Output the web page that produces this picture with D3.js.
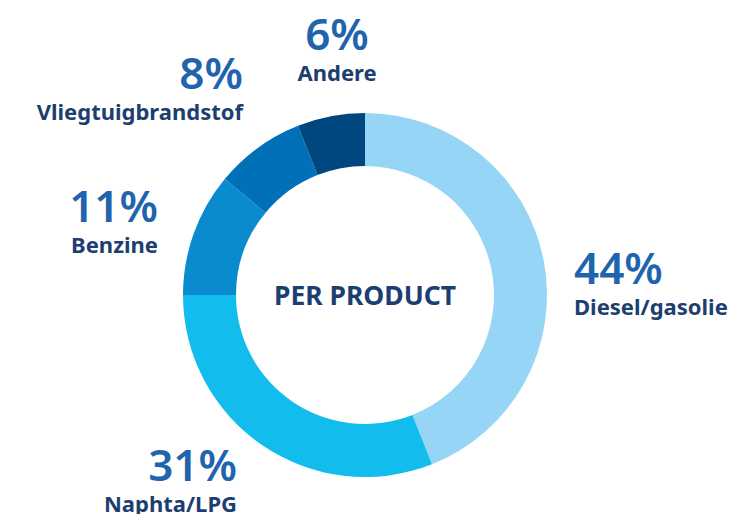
<!DOCTYPE html>
<html><head><meta charset="utf-8">
<script src="https://cdn.jsdelivr.net/npm/d3@7"></script>
<style>body{margin:0;background:#fff}svg{display:block}</style>
</head><body>
<svg id="c" width="734" height="514"></svg>
<script>
const categories = ["Diesel/gasolie","Naphta/LPG","Benzine","Vliegtuigbrandstof","Andere"];
const values = [44,31,11,8,6];
const colors = ["#96d5f5","#12bdee","#0a8bd0","#0070b8","#00467f"];
// label anchor positions (px) and alignment
const labelPos = [[574,284,"start"],[237,481,"end"],[158,222,"end"],[243,89,"end"],[337,50,"middle"]];

const svg = d3.select("#c");
const cx = 365, cy = 295, rOut = 182, rIn = 129;
const pie = d3.pie().sort(null).value(d=>d)(values);
const arc = d3.arc().innerRadius(rIn).outerRadius(rOut);
const g = svg.append("g").attr("transform",`translate(${cx},${cy})`);
g.selectAll("path").data(pie).join("path").attr("d",arc).attr("fill",(d,i)=>colors[i]);

const FONT = "'Noto Sans', 'Open Sans', sans-serif";
g.append("text").attr("text-anchor","middle").attr("y",10)
  .attr("font-family",FONT).attr("font-weight",700)
  .attr("font-size",26.5).attr("fill","#1d3e70").text("PER PRODUCT");

const lab = svg.append("g");
categories.forEach((c,i)=>{
  const [x,y,a]=labelPos[i];
  lab.append("text").attr("x",x).attr("y",y).attr("text-anchor",a)
    .attr("font-family",FONT).attr("font-weight",600)
    .attr("font-size",44).attr("fill","#1f64ad").text(values[i]+"%");
  lab.append("text").attr("x",x).attr("y",y+31).attr("text-anchor",a)
    .attr("font-family",FONT).attr("font-weight",700)
    .attr("font-size",22).attr("fill","#1d3e70").text(c);
});
</script>
</body></html>
